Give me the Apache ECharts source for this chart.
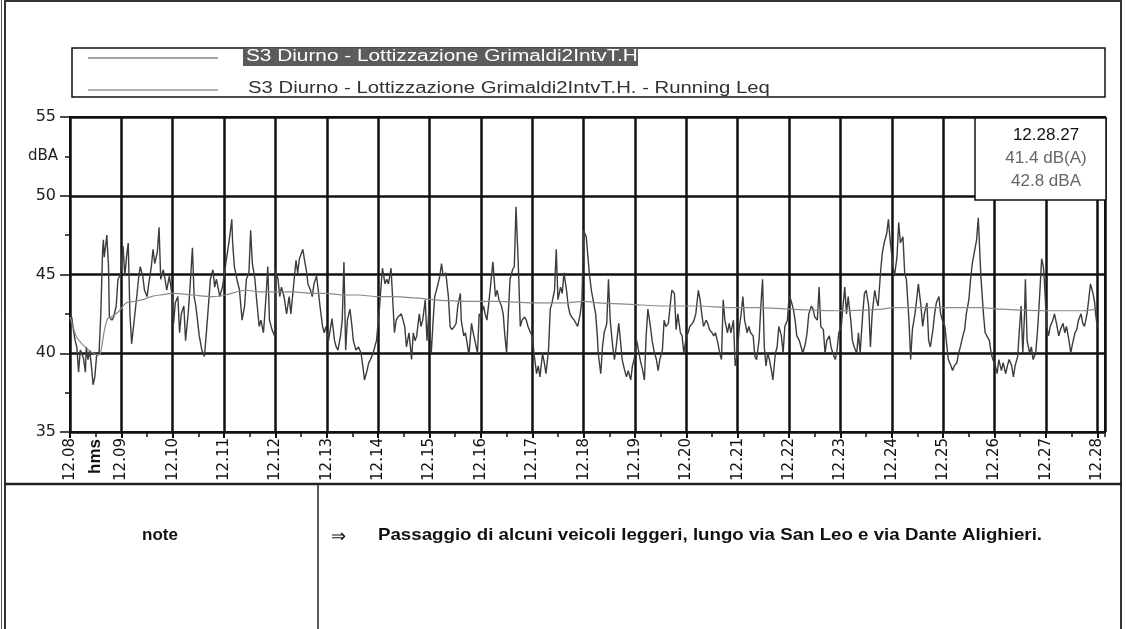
<!DOCTYPE html>
<html><head><meta charset="utf-8">
<script src="https://cdn.jsdelivr.net/npm/echarts@6/dist/echarts.min.js"></script>
<style>html,body{margin:0;padding:0;background:#fff}#c{width:1126px;height:629px}</style>
</head><body><div id="c"></div>
<script>
const xTickLabels = ['12.08','12.09','12.10','12.11','12.12','12.13','12.14','12.15','12.16','12.17','12.18','12.19','12.20','12.21','12.22','12.23','12.24','12.25','12.26','12.27','12.28'];
const xUnitLabel = 'hms';
const yUnitLabel = 'dBA';
const seriesNames = ['S3 Diurno - Lottizzazione Grimaldi2IntvT.H', 'S3 Diurno - Lottizzazione Grimaldi2IntvT.H. - Running Leq'];
const cursorTime = '12.28.27';
const cursorValues = ['41.4 dB(A)', '42.8 dBA'];
const noteLabel = 'note';
const noteArrow = '\u21D2';
const noteText = 'Passaggio di alcuni veicoli leggeri, lungo via San Leo e via Dante Alighieri.';

// [seconds after 12.08.00, dB(A)]
const levelA = [[2,42.3],[4,41.5],[6,40.8],[8,40.4],[10,38.8],[12,40.2],[14,40.0],[16,39.6],[18,38.8],[19,40.4],[21,39.6],[23,40.2],[25,39.2],[27,38.0],[29,38.5],[31,39.8],[34,40.1],[36,42.5],[38,46.4],[39,47.2],[40,46.1],[42,47.0],[43,47.5],[45,45.5],[46,42.3],[49,42.1],[51,42.3],[54,43.0],[56,44.7],[59,45.0],[62,46.8],[64,44.9],[66,46.1],[68,47.0],[70,42.5],[72,40.6],[75,42.1],[78,43.6],[80,44.7],[82,45.5],[85,44.9],[87,44.0],[90,43.6],[92,44.4],[95,45.5],[97,46.6],[99,45.7],[102,46.4],[104,48.0],[106,44.7],[109,45.3],[111,44.7],[113,44.0],[116,44.9],[119,43.8],[121,41.9],[123,43.2],[126,43.6],[128,41.3],[130,42.5],[133,43.0],[135,40.8],[138,42.5],[140,44.0],[143,46.7],[145,43.6],[147,43.0],[151,41.1],[154,40.2],[157,39.8],[159,41.1],[161,42.5],[164,44.7],[167,45.3],[169,44.2],[171,44.7],[175,43.6],[178,44.2],[180,44.9],[182,45.7],[185,46.8],[187,47.6],[189,48.5],[190,47.0],[192,45.5],[195,44.7],[198,44.0],[201,42.1],[204,43.0],[206,44.7],[209,45.1],[211,47.8],[213,45.7],[216,44.7],[218,43.4],[221,41.7],[223,42.1],[226,41.3],[229,43.6],[231,45.5],[233,42.1],[236,41.5],[239,41.1],[240,45.3],[243,44.7],[245,43.6],[247,44.2],[250,43.6],[253,42.5],[256,43.6],[258,42.5],[261,44.2],[264,45.9],[266,45.1],[268,46.0],[272,46.6],[274,45.9],[276,45.3],[278,44.4],[281,44.0],[283,43.6],[285,44.4],[288,44.9],[290,44.0],[292,43.0],[295,41.7],[297,41.3],[299,41.7],[302,40.8],[304,41.5],[306,42.2],[309,40.8],[311,40.4],[313,40.2],[316,41.1],[318,42.1],[320,45.8],[322,40.2],[324,42.1],[327,42.8],[329,41.9],[331,40.8],[334,40.2],[337,40.4],[340,40.0],[342,39.2],[344,38.3],[347,38.9],[349,39.4],[351,39.6],[354,40.0],[358,40.8],[361,42.5],[363,44.0],[365,45.4],[368,44.4],[370,44.7],[372,44.4],[375,45.4],[377,43.4],[379,41.3],[381,42.1],[383,42.3]];
const levelB = [[387,42.5],[389,42.1],[391,41.7],[393,40.4],[396,41.3],[399,39.6],[401,41.3],[403,40.8],[405,41.1],[408,42.5],[410,41.7],[412,42.1],[415,43.4],[417,40.8],[419,42.5],[422,40.0],[424,41.9],[426,43.6],[429,44.2],[432,44.9],[434,45.7],[436,44.9],[439,45.1],[442,43.6],[444,41.7],[446,41.5],[449,41.7],[451,41.9],[453,43.0],[456,43.8],[457,42.1],[460,41.1],[462,41.3],[464,40.6],[466,39.9],[469,41.9],[471,41.3],[473,40.8],[476,40.0],[478,42.5],[480,42.3],[483,43.0],[485,42.5],[487,42.1],[490,43.6],[492,44.7],[494,45.8],[497,43.6],[499,44.0],[501,43.4],[504,43.0],[506,42.5],[508,41.1],[510,40.0],[512,42.5],[514,44.7],[517,45.3],[519,45.5],[521,49.3],[524,45.1],[526,41.7],[528,42.1],[531,42.3],[533,42.1],[535,41.7],[538,41.3],[540,41.1],[542,40.0],[545,38.7],[547,39.2],[549,38.5],[552,40.0],[554,39.4],[556,38.7],[559,40.2],[561,42.8],[563,43.2],[566,44.0],[568,46.6],[570,43.4],[573,44.2],[575,43.8],[577,45.1],[580,44.0],[582,43.0],[584,42.5],[586,42.3],[589,42.1],[591,41.9],[593,41.7],[596,42.5],[598,43.4],[600,47.8],[603,47.4],[605,46.1],[607,44.9],[609,44.0],[611,43.4],[614,42.5],[616,41.1],[617,40.0],[620,38.7],[622,40.4],[624,41.3],[627,41.9],[629,44.7],[631,42.1],[634,40.4],[636,39.6],[638,40.4],[641,41.9],[643,40.8],[645,39.6],[648,38.9],[650,38.5],[652,38.9],[655,38.3],[657,39.2],[659,39.6],[662,40.8],[664,40.2],[666,39.6],[669,38.9],[671,38.3],[673,41.1],[675,42.8],[678,41.7],[680,40.8],[682,40.2],[685,39.6],[687,38.9],[689,39.6],[692,40.2],[694,42.1],[696,41.7],[699,41.9],[701,43.0],[703,44.0],[706,43.8],[708,41.5],[710,42.5],[713,41.3],[715,41.1],[717,40.0],[720,41.1],[722,41.3],[724,41.7],[727,41.9],[729,42.1],[731,42.5],[734,44.0],[736,43.4],[738,42.5],[740,41.7],[743,42.1],[745,41.9],[747,41.5],[750,41.3],[752,41.1],[754,41.3],[757,40.6],[759,40.0],[761,39.6],[763,43.4],[765,42.1],[768,41.3],[770,41.9],[772,41.3],[775,42.1],[777,39.2],[779,39.8],[782,41.7],[784,42.5],[786,43.6],[788,42.1],[791,41.3],[793,41.7],[795,41.3],[798,41.1],[800,39.8],[802,39.6]];
const levelC = [[805,40.9],[807,43.0],[809,44.7],[811,40.4],[813,39.2],[815,40.0],[817,39.6],[820,38.7],[821,38.3],[824,40.0],[826,40.4],[828,41.7],[831,41.1],[833,40.0],[835,41.7],[838,42.1],[840,43.6],[842,43.4],[845,42.8],[847,42.1],[849,41.1],[852,40.8],[854,40.4],[856,40.0],[859,40.6],[861,41.3],[863,42.5],[866,43.0],[868,42.8],[870,42.3],[873,42.1],[875,44.2],[877,41.7],[880,41.5],[882,40.0],[884,40.8],[887,41.1],[889,40.4],[891,40.0],[894,39.6],[896,40.2],[898,41.3],[901,41.7],[903,43.0],[905,44.2],[907,42.5],[909,43.6],[912,42.1],[914,40.8],[916,40.4],[919,40.0],[921,41.3],[923,40.0],[926,42.5],[928,43.8],[930,44.0],[933,43.0],[935,40.4],[937,42.5],[940,44.0],[942,43.4],[944,43.0],[947,45.3],[949,46.4],[951,47.0],[954,47.6],[956,48.5],[958,47.2],[961,45.7],[963,44.9],[966,46.1],[968,48.3],[970,47.0],[973,47.4],[975,45.1],[977,44.7],[980,42.1],[982,39.6],[984,41.5],[987,42.5],[989,43.4],[991,44.4],[994,43.0],[996,41.7],[998,42.5],[1001,43.2],[1003,40.8],[1005,40.4],[1008,41.5],[1010,42.5],[1012,43.2],[1015,43.6],[1017,42.5],[1019,42.1],[1022,41.7],[1024,40.6],[1026,39.6],[1029,39.2],[1031,38.9],[1033,39.2],[1036,39.4],[1038,40.0],[1040,40.4],[1043,41.1],[1045,41.5],[1047,42.5],[1050,43.4],[1052,44.7],[1054,45.7],[1057,46.6],[1059,47.2],[1061,48.6],[1063,46.1],[1064,44.9],[1067,42.5],[1069,41.3],[1071,41.1],[1074,40.8],[1076,40.0],[1078,39.6],[1081,39.2],[1083,38.7],[1085,39.6],[1088,38.9],[1090,39.4],[1093,38.7],[1095,39.2],[1097,39.6],[1100,39.2],[1102,38.5],[1104,39.2],[1107,39.8],[1109,41.5],[1111,43.0],[1113,40.0],[1115,42.5],[1116,44.7],[1118,40.8],[1121,40.0],[1123,40.4],[1125,39.6],[1128,40.0],[1130,41.3],[1132,43.0],[1135,46.0],[1137,45.5],[1138,44.7],[1141,41.7],[1143,41.1],[1145,41.7],[1148,42.1],[1150,42.5],[1153,41.7],[1155,41.1],[1157,41.5],[1160,41.9],[1162,41.3],[1164,41.7],[1167,40.8],[1169,40.0],[1171,40.6],[1174,41.3],[1176,41.5],[1178,42.1],[1181,42.5],[1183,41.9],[1185,41.7],[1188,42.5],[1190,43.4],[1192,44.4],[1195,43.8],[1197,43.2],[1198,42.5],[1200,41.7]];
const runningLeq = [[0,42.3],[4,41.6],[8,41.0],[14,40.6],[20,40.3],[27,40.0],[34,39.9],[37,40.4],[40,41.4],[44,42.2],[48,42.3],[56,42.6],[66,43.2],[76,43.3],[85,43.4],[95,43.6],[105,43.7],[120,43.8],[143,43.7],[167,43.6],[182,43.7],[205,44.0],[221,43.9],[260,43.9],[283,43.8],[299,43.8],[318,43.7],[337,43.7],[357,43.6],[376,43.6],[407,43.5],[424,43.4],[463,43.3],[501,43.3],[540,43.2],[579,43.2],[600,43.3],[617,43.2],[656,43.1],[695,43.0],[734,43.0],[772,42.9],[803,42.9],[840,42.8],[898,42.7],[949,42.8],[961,42.9],[988,42.9],[1027,42.9],[1066,42.9],[1085,42.8],[1144,42.7],[1183,42.7],[1198,42.8]];

const FONT = "'Liberation Sans', Arial, sans-serif";
const WIDE = "'DejaVu Sans', 'Liberation Sans', sans-serif";
const chart = echarts.init(document.getElementById('c'), null, {renderer: 'canvas'});
const xMax = 1209;

const option = {
  animation: false,
  backgroundColor: '#fff',
  textStyle: {fontFamily: FONT},
  grid: {left: 70, top: 117, right: 21, bottom: 197, show: true, borderColor: '#111', borderWidth: 2, backgroundColor: 'transparent'},
  xAxis: [{
    type: 'value', min: 0, max: xMax, interval: 60,
    axisLine: {lineStyle: {color: '#111', width: 2}},
    axisTick: {length: 6, lineStyle: {color: '#111', width: 2}},
    axisLabel: {rotate: 90, fontSize: 15, color: '#111', margin: 6, fontFamily: WIDE, showMaxLabel: false,
      formatter: v => (v % 60 === 0 && xTickLabels[v / 60] !== undefined) ? xTickLabels[v / 60] : ''},
    splitLine: {show: true, lineStyle: {color: '#111', width: 2.5}}
  }, {
    type: 'value', min: 0, max: xMax, interval: 30, position: 'bottom',
    axisLine: {show: false},
    axisTick: {length: 5, lineStyle: {color: '#111', width: 1.5}},
    axisLabel: {rotate: 90, fontSize: 17, fontWeight: 'bold', color: '#111', margin: 7, fontFamily: FONT,
      formatter: v => v === 30 ? xUnitLabel : ''},
    splitLine: {show: false}
  }],
  yAxis: [{
    type: 'value', min: 35, max: 55, interval: 5,
    axisLine: {show: true, lineStyle: {color: '#111', width: 2}},
    axisTick: {show: true, length: 10, lineStyle: {color: '#111', width: 1.5}},
    axisLabel: {fontSize: 16, color: '#222', margin: 14, fontFamily: WIDE},
    splitLine: {show: true, lineStyle: {color: '#111', width: 2.5}}
  }, {
    type: 'value', min: 35, max: 55, interval: 2.5, position: 'left',
    axisLine: {show: false},
    axisTick: {show: true, length: 5, lineStyle: {color: '#111', width: 1.5}},
    axisLabel: {fontSize: 15, color: '#222', margin: 12, fontFamily: WIDE,
      formatter: v => v === 52.5 ? yUnitLabel : ''},
    splitLine: {show: false}
  }],
  series: [{
    name: seriesNames[0], type: 'line', xAxisIndex: 0, yAxisIndex: 0,
    data: levelA.concat(levelB, levelC), showSymbol: false, symbol: 'none',
    lineStyle: {color: '#3c3c3c', width: 1.4}, z: 3
  }, {
    name: seriesNames[1], type: 'line', xAxisIndex: 0, yAxisIndex: 0,
    data: runningLeq, showSymbol: false, symbol: 'none', smooth: 0.3,
    lineStyle: {color: '#8a8a8a', width: 1.2}, z: 4
  }],
  graphic: [
    {type: 'rect', z: 100, shape: {x: 5, y: 1, width: 1116, height: 640}, style: {fill: 'none', stroke: '#333', lineWidth: 2}},
    {type: 'line', z: 100, shape: {x1: 1.5, y1: 0, x2: 1.5, y2: 629}, style: {stroke: '#555', lineWidth: 1}},
    // legend
    {type: 'rect', z: 100, shape: {x: 72, y: 48, width: 1033, height: 49}, style: {fill: '#fff', stroke: '#111', lineWidth: 1.5}},
    {type: 'rect', z: 101, shape: {x: 243, y: 48, width: 395, height: 18}, style: {fill: '#5c5c5c'}},
    {type: 'line', z: 101, shape: {x1: 88, y1: 58, x2: 218, y2: 58}, style: {stroke: '#4a4a4a', lineWidth: 1.2}},
    {type: 'line', z: 101, shape: {x1: 88, y1: 90, x2: 218, y2: 90}, style: {stroke: '#6a6a6a', lineWidth: 1.2}},
    {type: 'text', z: 102, x: 246, y: 57, scaleX: 1.3, style: {text: seriesNames[0], fill: '#fff', font: '16px ' + FONT, align: 'left', verticalAlign: 'middle'}},
    {type: 'text', z: 102, x: 248, y: 89, scaleX: 1.27, style: {text: seriesNames[1], fill: '#333', font: '16px ' + FONT, align: 'left', verticalAlign: 'middle'}},
    // cursor box
    {type: 'rect', z: 100, shape: {x: 975, y: 118, width: 131, height: 82}, style: {fill: '#fff', stroke: '#111', lineWidth: 1.5}},
    {type: 'text', z: 102, x: 1046, y: 135, style: {text: cursorTime, fill: '#111', font: '17px ' + FONT, align: 'center', verticalAlign: 'middle'}},
    {type: 'text', z: 102, x: 1046, y: 158, style: {text: cursorValues[0], fill: '#666', font: '17px ' + FONT, align: 'center', verticalAlign: 'middle'}},
    {type: 'text', z: 102, x: 1046, y: 181, style: {text: cursorValues[1], fill: '#666', font: '17px ' + FONT, align: 'center', verticalAlign: 'middle'}},
    // note table
    {type: 'line', z: 100, shape: {x1: 4, y1: 484, x2: 1122, y2: 484}, style: {stroke: '#222', lineWidth: 2.5}},
    {type: 'line', z: 100, shape: {x1: 318, y1: 484, x2: 318, y2: 629}, style: {stroke: '#222', lineWidth: 1.5}},
    {type: 'text', z: 102, x: 160, y: 535, style: {text: noteLabel, fill: '#111', font: 'bold 17px ' + FONT, align: 'center', verticalAlign: 'middle'}},
    {type: 'text', z: 102, x: 331, y: 537, style: {text: noteArrow, fill: '#111', font: '18px ' + FONT, align: 'left', verticalAlign: 'middle'}},
    {type: 'text', z: 102, x: 378, y: 535, scaleX: 1.1, style: {text: noteText, fill: '#111', font: 'bold 17px ' + FONT, align: 'left', verticalAlign: 'middle'}}
  ]
};
chart.setOption(option);
</script>
</body></html>
